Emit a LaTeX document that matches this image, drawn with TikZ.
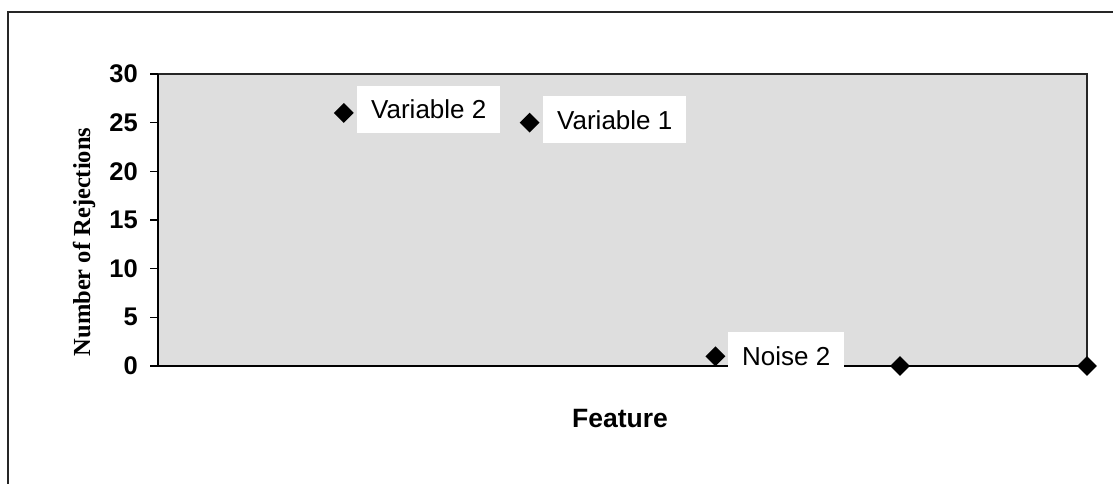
\documentclass[tikz,border=0pt]{standalone}
\usepackage{fontspec}
\setmainfont{Liberation Serif}
\newfontfamily\arialf{Liberation Sans}
\usetikzlibrary{shapes.geometric}
\tikzset{
  framestyle/.style={line width=1.4pt, black!85},
  axisstyle/.style={line width=1.8pt, black},
  mk/.style={diamond, fill=black, minimum size=20pt, inner sep=0pt},
  lbl/.style={fill=white, inner xsep=14pt, inner ysep=14pt, font=\arialf\fontsize{26}{30}\selectfont, anchor=base west},
  ticklbl/.style={inner sep=0pt, anchor=east, font=\arialf\bfseries\fontsize{25.5}{28}\selectfont},
}
\begin{document}
\begin{tikzpicture}[x=1pt,y=-1pt]
\useasboundingbox (0,0) rectangle (1113,484);
\fill[white] (0,0) rectangle (1113,484);
% outer chart frame (top and left visible)
\draw[framestyle] (8,484) -- (8,12) -- (1113,12);
% plot area
\coordinate (pa) at (158,74);
\coordinate (pb) at (1087,366);
\fill[black!13] (pa) rectangle (pb);
\draw[framestyle] (151,74) -- (1087,74) -- (1087,366);
\draw[axisstyle] (158,74) -- (158,366);
\draw[axisstyle] (151,366) -- (1090,366);
% y ticks and labels
\foreach \v in {0,5,...,30}{
  \draw[axisstyle, line width=1.3pt] (150,{366-\v*9.7333}) -- (158,{366-\v*9.7333});
  \node[ticklbl] (t\v) at (138,{366-\v*9.7333}) {\v};
}
% data labels with white boxes
\node[lbl] (l2) at (357,119) {Variable 2};
\node[lbl] (l1) at (543,129) {Variable 1};
\node[lbl] (n2) at (728,365) {Noise 2};
% markers
\node[mk] (p1) at (343.8,{366-26*9.7333}) {};
\node[mk] (p2) at (529.6,{366-25*9.7333}) {};
\node[mk] (p3) at (715.4,{366-1*9.7333}) {};
\node[mk] (p4) at (900,366) {};
\node[mk] (p5) at (1087,366) {};
% axis titles
\node[anchor=base, inner sep=0pt, font=\arialf\bfseries\fontsize{26.5}{30}\selectfont] (xt) at (620,427) {Feature};
\node[anchor=base, inner sep=0pt, rotate=90, font=\bfseries\fontsize{24.5}{30}\selectfont] (yt) at (90,242) {Number of Rejections};
\end{tikzpicture}
\end{document}
